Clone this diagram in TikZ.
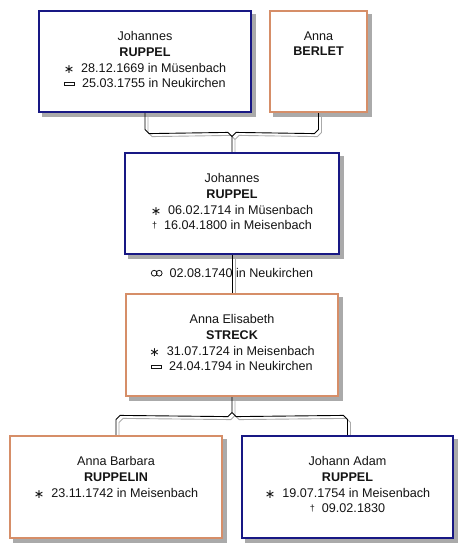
\documentclass[tikz,border=0pt]{standalone}
\usepackage{fontspec}
\setmainfont{Liberation Sans}
\newfontfamily\symf{DejaVu Sans}
\usetikzlibrary{calc}
\definecolor{navyb}{RGB}{24,24,132}
\definecolor{orangeb}{RGB}{214,142,104}
\definecolor{shad}{RGB}{170,170,170}
\definecolor{txt}{RGB}{20,20,20}
\newcommand{\birth}{\raisebox{-1pt}{\symf\fontsize{12.5}{13}\selectfont ∗}\ \ }
\newcommand{\burial}{\tikz[baseline=0pt,x=1pt,y=1pt]\draw[line width=0.8pt,txt] (0,2.2) rectangle (10,5.8);\ \ }
\newcommand{\death}{\raisebox{1.5pt}{\fontsize{9}{10}\selectfont †}\ \ }
\newcommand{\marr}{\tikz[baseline=0pt,x=1pt,y=1pt]{\draw[line width=0.8pt,txt] (3,4.3) circle[radius=2.9] (8,4.3) circle[radius=2.9];}\ \ }
\tikzset{
  person/.style={minimum width=212pt, minimum height=101pt, inner sep=0pt, fill=white, line width=1.2pt},
  male/.style={person, draw=navyb},
  female/.style={person, draw=orangeb},
  ptext/.style={anchor=north, align=center, inner sep=0pt, text=txt, font=\fontsize{12.6}{15.7}\selectfont},
  conn/.style={draw=black, line width=0.9pt},
  connsh/.style={draw=shad, line width=0.9pt},
}
\begin{document}
\begin{tikzpicture}[x=1pt,y=-1pt]
\useasboundingbox (0,0) rectangle (472,558);
% box geometry (invisible nodes first for names)
\node[person, fill=none, minimum width=212pt, minimum height=101pt] (b1) at (145,61.5) {};
\node[person, fill=none, minimum width=97pt, minimum height=101pt] (b2) at (318.5,61.5) {};
\node[person, fill=none, minimum width=214pt, minimum height=101pt] (b3) at (232,203.5) {};
\node[person, fill=none, minimum width=212pt, minimum height=102pt] (b4) at (232,345) {};
\node[person, fill=none, minimum width=212pt, minimum height=102pt] (b5) at (116,487) {};
\node[person, fill=none, minimum width=211pt, minimum height=102pt] (b6) at (347.5,487) {};
% shadows
\foreach \b in {b1,b2,b3,b4,b5,b6}{
  \fill[shad] ($(\b.north west)+(4,4)$) rectangle ($(\b.south east)+(4,4)$);
}
% connectors (gray offset then black)
\foreach \st/\dx in {connsh/3,conn/0}{
\draw[\st] ($(b1.south)+(\dx,\dx)$) -- ++(0,17) -- ++(4,4) -- ($(b3.north)+(-4+\dx,-20+\dx)$) -- ++(4,4) -- ($(b3.north)+(\dx,\dx)$);
\draw[\st] ($(b2.south)+(\dx,\dx)$) -- ++(0,17) -- ++(-4,4) -- ($(b3.north)+(4+\dx,-20+\dx)$) -- ++(-4,4);
\draw[\st] ($(b3.south)+(\dx,\dx)$) -- ($(b4.north)+(\dx,\dx)$);
\draw[\st] ($(b4.south)+(\dx,\dx)$) -- ++(0,16) -- ++(-4,4) -- ($(b5.north)+(4+\dx,-20+\dx)$) -- ++(-4,4) -- ($(b5.north)+(\dx,\dx)$);
\draw[\st] ($(b4.south)+(\dx,16+\dx)$) -- ++(4,4) -- ($(b6.north)+(-4+\dx,-20+\dx)$) -- ++(4,4) -- ($(b6.north)+(\dx,\dx)$);
}
% boxes
\node[male, minimum width=212pt, minimum height=101pt] (f1) at (b1) {};
\node[female, minimum width=97pt, minimum height=101pt] (f2) at (b2) {};
\node[male, minimum width=214pt, minimum height=101pt] (f3) at (b3) {};
\node[female, minimum width=212pt, minimum height=102pt] (f4) at (b4) {};
\node[female, minimum width=212pt, minimum height=102pt] (f5) at (b5) {};
\node[male, minimum width=211pt, minimum height=102pt] (f6) at (b6) {};
% texts
\node[ptext] (t1) at ($(b1.north)+(0,21)$) {Johannes\\\textbf{RUPPEL}\\\birth28.12.1669 in Müsenbach\\\burial25.03.1755 in Neukirchen};
\node[ptext] (t2) at ($(b2.north)+(0,21)$) {Anna\\\textbf{BERLET}};
\node[ptext] (t3) at ($(b3.north)+(0,21)$) {Johannes\\\textbf{RUPPEL}\\\birth06.02.1714 in Müsenbach\\\death16.04.1800 in Meisenbach};
\node[ptext] (t4) at ($(b4.north)+(0,21)$) {Anna Elisabeth\\\textbf{STRECK}\\\birth31.07.1724 in Meisenbach\\\burial24.04.1794 in Neukirchen};
\node[ptext] (t5) at ($(b5.north)+(0,21)$) {Anna Barbara\\\textbf{RUPPELIN}\\\birth23.11.1742 in Meisenbach};
\node[ptext] (t6) at ($(b6.north)+(0,21)$) {Johann Adam\\\textbf{RUPPEL}\\\birth19.07.1754 in Meisenbach\\\death09.02.1830};
\node[ptext, anchor=center] (m) at (232,273) {\marr02.08.1740 in Neukirchen};
\end{tikzpicture}
\end{document}
